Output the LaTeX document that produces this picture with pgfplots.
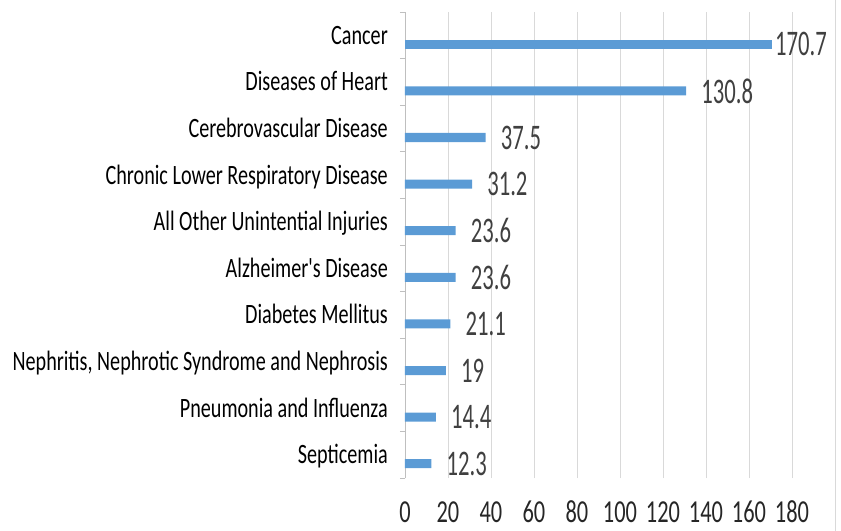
\documentclass[border=0pt]{standalone}
\usepackage{fontspec}
\setmainfont{Carlito}
\newfontfamily\catfont[FakeStretch=0.72]{Carlito}
\newfontfamily\tickfont[FakeStretch=0.7]{Carlito}
\newfontfamily\lblfont[FakeStretch=0.63]{Carlito}
\usepackage{pgfplots}
\pgfplotsset{compat=1.18}
\definecolor{barblue}{HTML}{5B9BD5}
\definecolor{gridgray}{HTML}{D9D9D9}
\definecolor{axgray}{HTML}{BFBFBF}
\definecolor{lblgray}{HTML}{404040}
\definecolor{tickgray}{HTML}{262626}
\begin{document}
\begin{tikzpicture}
\begin{axis}[
  scale only axis,
  width=387bp, height=466bp,
  xbar, bar width=9bp, bar shift=-9bp,
  xmin=0, xmax=180,
  ymin=-0.5, ymax=9.5,
  xtick={0,20,...,180},
  ytick={0,...,9},
  minor ytick={-0.5,0.5,...,9.5},
  yticklabels={Septicemia, Pneumonia and Influenza, {Nephritis, Nephrotic Syndrome and Nephrosis}, Diabetes Mellitus, Alzheimer's Disease, All Other Unintential Injuries, Chronic Lower Respiratory Disease, Cerebrovascular Disease, Diseases of Heart, Cancer},
  axis x line=bottom, axis y line=left,
  axis line style={-},
  x axis line style={draw=none},
  y axis line style={draw=axgray, line width=0.9bp},
  xmajorgrids, grid style={draw=gridgray, line width=0.9bp},
  major tick length=0pt, minor tick length=5bp, tick align=outside,
  minor tick style={draw=axgray, line width=0.9bp},
  /pgf/number format/assume math mode=true,
  yticklabel style={font=\catfont\fontsize{28bp}{28bp}\selectfont, text=black, anchor=east, inner sep=0pt, xshift=-17bp, text height=18bp, text depth=0pt},
  xticklabel style={font=\tickfont\fontsize{32bp}{32bp}\selectfont, text=tickgray, anchor=base, inner sep=0pt, yshift=-44bp},
  point meta=x,
  nodes near coords={\pgfmathprintnumber[assume math mode=true]{\pgfplotspointmeta}},
  nodes near coords style={font=\lblfont\fontsize{36bp}{36bp}\selectfont, text=lblgray, anchor=west, inner sep=0pt},
  clip=false,
]
\addplot[fill=barblue, draw=none, nodes near coords style={xshift=15bp}] coordinates {
  (12.3,0) (14.4,1) (19,2) (21.1,3) (23.6,4) (23.6,5) (31.2,6) (37.5,7) (130.8,8)
};
\addplot[fill=barblue, draw=none, nodes near coords style={xshift=3bp}] coordinates {
  (170.7,9)
};
\end{axis}
\draw[draw=gridgray, line width=1bp] ([xshift=43bp,yshift=-53bp]current axis.south east) -- ++(0,531bp);
\pgfresetboundingbox
\path ([xshift=-405bp,yshift=-53bp]current axis.south west) rectangle ++(841bp,531bp);
\end{tikzpicture}
\end{document}
